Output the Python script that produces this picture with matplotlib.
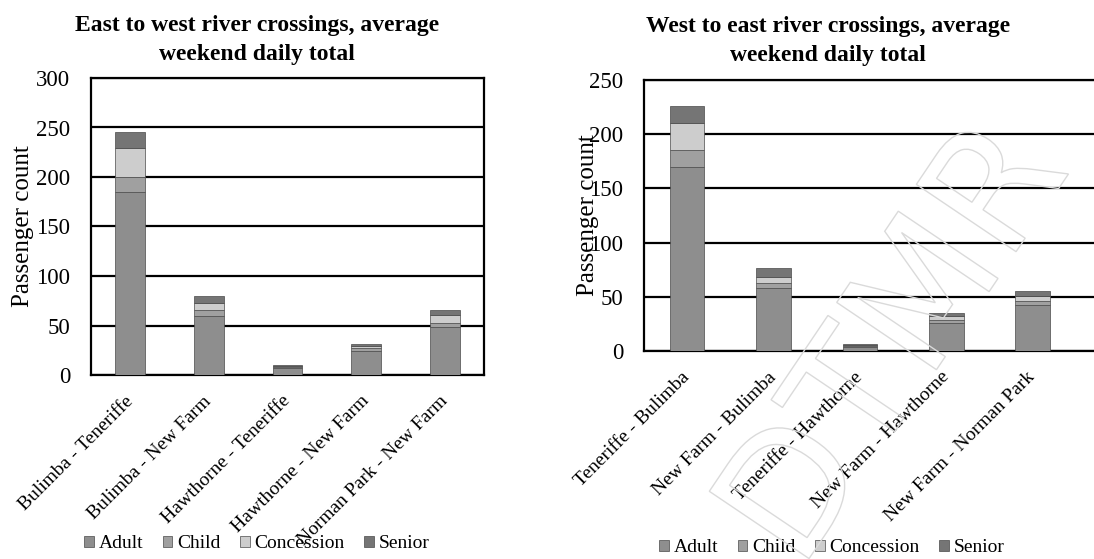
import matplotlib
matplotlib.use("Agg")
import numpy as np
import matplotlib.pyplot as plt
from matplotlib.textpath import TextPath
from matplotlib.patches import PathPatch
from matplotlib.font_manager import FontProperties
from matplotlib.transforms import Affine2D

plt.rcParams["font.family"] = ["Liberation Serif", "DejaVu Serif"]

# fare types, stacked bottom to top
fare_types = ["Adult", "Child", "Concession", "Senior"]
fare_colors = ["#8e8e8e", "#a0a0a0", "#cdcdcd", "#757575"]

# east to west crossings
ew_routes = ["Bulimba - Teneriffe", "Bulimba - New Farm", "Hawthorne - Teneriffe",
             "Hawthorne - New Farm", "Norman Park - New Farm"]
ew_adult = [185, 60, 7, 24, 48]
ew_child = [15, 6, 1, 3, 5]
ew_concession = [29, 7, 1, 2, 8]
ew_senior = [16, 7, 1, 2, 5]

# west to east crossings
we_routes = ["Teneriffe - Bulimba", "New Farm - Bulimba", "Teneriffe - Hawthorne",
             "New Farm - Hawthorne", "New Farm - Norman Park"]
we_adult = [170, 58, 4, 26, 42]
we_child = [15, 5, 1, 3, 4]
we_concession = [25, 5, 0.5, 3, 5]
we_senior = [16, 9, 0.5, 3, 4]

W, H = 1094, 559
fig = plt.figure(figsize=(W / 100, H / 100), dpi=100)


def px_axes(x0, x1, ytop, ybot):
    return fig.add_axes([x0 / W, (H - ybot) / H, (x1 - x0) / W, (ybot - ytop) / H])


def stacked(ax, routes, series, ymax, width, xmax):
    x = np.arange(len(routes))
    bottom = np.zeros(len(routes))
    for name, vals, col in zip(fare_types, series, fare_colors):
        ax.bar(x, vals, width, bottom=bottom, color=col, edgecolor="#4a4a4a",
               linewidth=0.5, label=name, zorder=3)
        bottom += np.asarray(vals, dtype=float)
    ax.set_ylim(0, ymax)
    ax.set_xlim(-0.5, xmax)
    ax.set_yticks(np.arange(0, ymax + 1, 50))
    ax.yaxis.grid(True, color="black", linewidth=1.6, zorder=1)
    ax.set_axisbelow(True)
    ax.tick_params(axis="y", length=0, pad=15, labelsize=16.5)
    ax.tick_params(axis="x", length=0, pad=17)
    ax.set_xticks(x)
    ax.set_xticklabels(routes, rotation=45, ha="right", va="center",
                       rotation_mode="anchor", fontsize=14)
    for s in ax.spines.values():
        s.set_linewidth(1.6)
        s.set_color("black")
    ax.set_ylabel("Passenger count", fontsize=18)


ax1 = px_axes(91, 484, 78, 375)
stacked(ax1, ew_routes, [ew_adult, ew_child, ew_concession, ew_senior],
        300, 0.38, 4.5)
ax1.yaxis.set_label_coords(-0.145, 0.5)

ax2 = px_axes(644, 1100, 80, 351)
stacked(ax2, we_routes, [we_adult, we_child, we_concession, we_senior],
        250, 0.40, 4.78)
ax2.yaxis.set_label_coords(-0.098, 0.5)

fig.text(257 / W, 1 - 40 / H, "East to west river crossings, average\nweekend daily total",
         ha="center", va="center", fontsize=17, fontweight="bold", linespacing=1.45)
fig.text(828 / W, 1 - 41 / H, "West to east river crossings, average\nweekend daily total",
         ha="center", va="center", fontsize=17, fontweight="bold", linespacing=1.45)

leg_kw = dict(ncol=4, frameon=False, fontsize=14, handlelength=0.5,
              handleheight=0.5, handletextpad=0.25, columnspacing=1.0,
              loc="center")
h1, l1 = ax1.get_legend_handles_labels()
fig.legend(h1, l1, bbox_to_anchor=(257 / W, 1 - 544 / H), **leg_kw)
h2, l2 = ax2.get_legend_handles_labels()
fig.legend(h2, l2, bbox_to_anchor=(832 / W, 1 - 548 / H), **leg_kw)

# faint outlined watermark across the right panel
tp = TextPath((0, 0), "DTMR", size=1.0, prop=FontProperties(family="DejaVu Sans"))
wm = Affine2D().scale(165).rotate_deg(56).translate(800, H - 572)
fig.add_artist(PathPatch(tp, transform=wm, facecolor="none",
                         edgecolor="#dadada", linewidth=1.0, zorder=10))

fig.savefig("out.png", dpi=100)
